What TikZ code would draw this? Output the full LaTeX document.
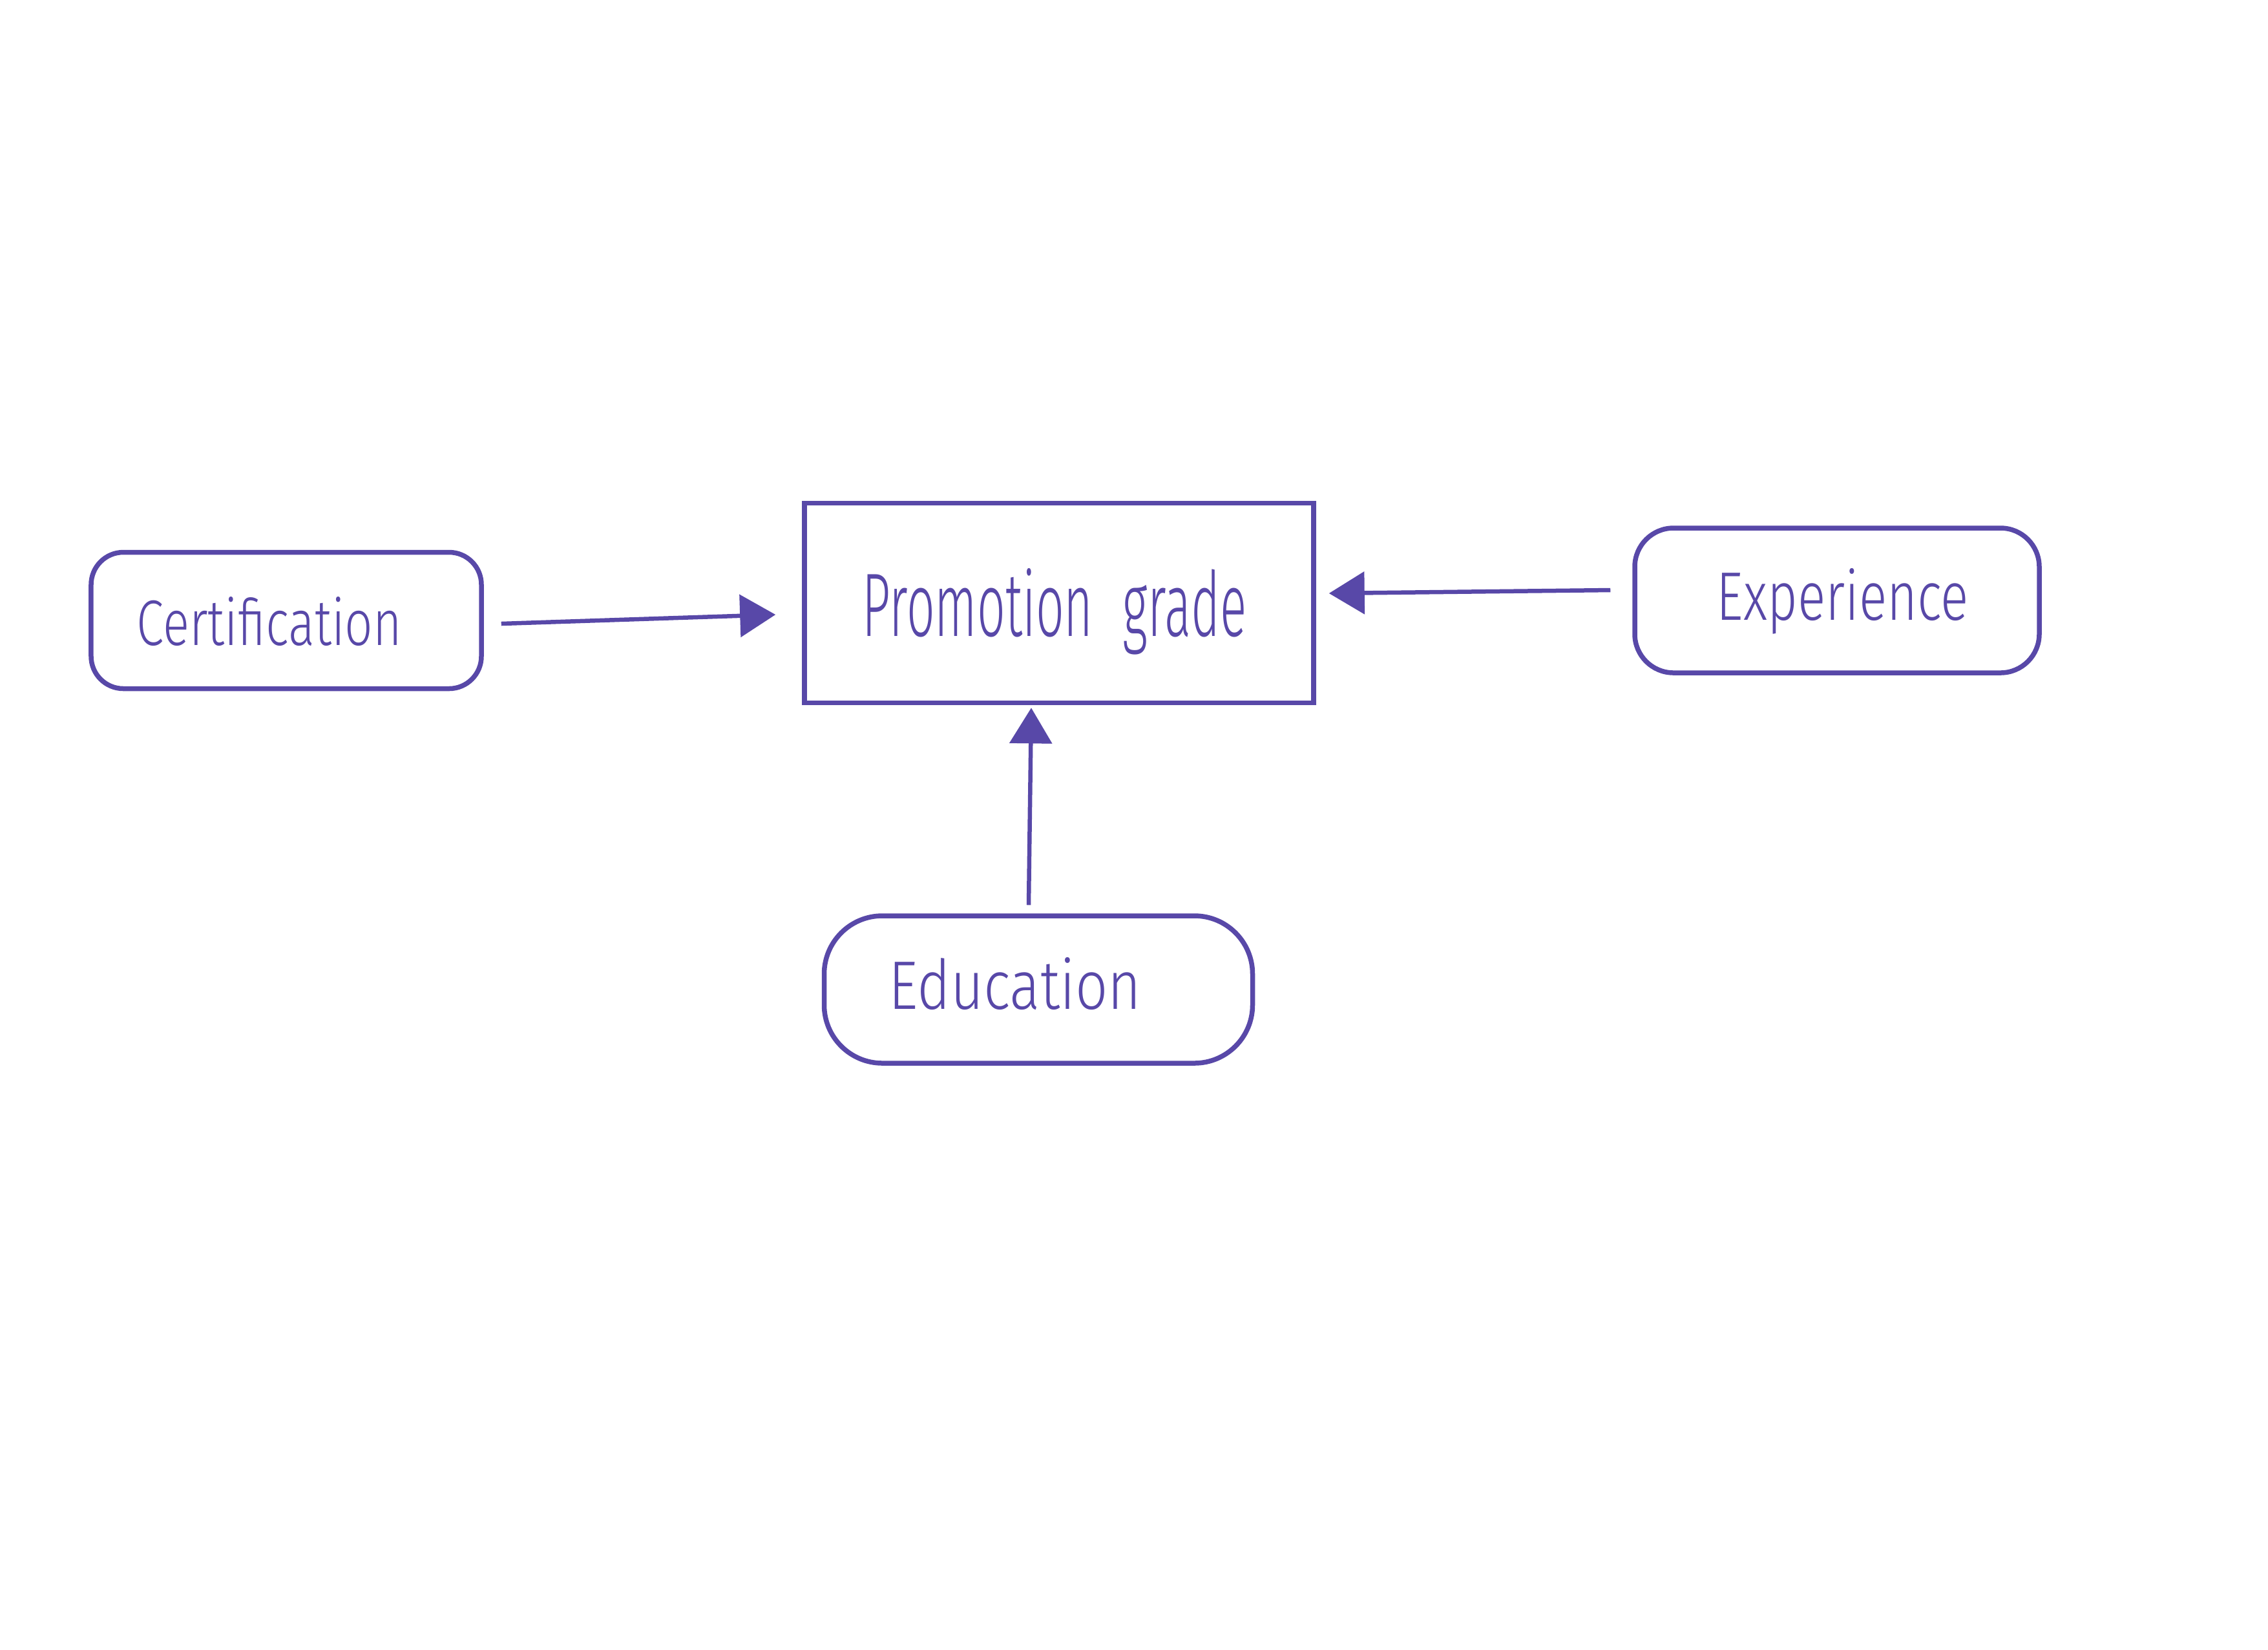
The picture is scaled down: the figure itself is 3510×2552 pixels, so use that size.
\documentclass[tikz,border=0pt]{standalone}
\usepackage{fontspec}
\setmainfont{Lato}
\newfontfamily\hand{Fira Sans}[UprightFont=* Light]
\usetikzlibrary{arrows.meta}
\definecolor{ink}{RGB}{88,72,168}
\tikzset{
  pen/.style={draw=ink, line width=1.5pt},
  roundbox/.style={pen, rounded corners=10pt, inner sep=0pt},
  mainbox/.style={pen, inner sep=0pt},
  lbl/.style={text=ink, font=\hand},
  arr/.style={draw=ink, line width=1.3pt, -{Triangle[length=11pt,width=13pt]}},
}
\begin{document}
\begin{tikzpicture}[x=0.2pt,y=-0.2pt]
\useasboundingbox[fill=white] (0,0) rectangle (3510,2552);
\node[roundbox, minimum width=120.8pt, minimum height=42.2pt] (cert) at (443,960) {};
\node[lbl] (certt) at (417,962) {\resizebox{82pt}{15pt}{Certification}};
\node[mainbox, minimum width=157.6pt, minimum height=61.8pt] (promo) at (1639,933) {};
\node[lbl] (promot) at (1632,946) {\resizebox{119pt}{21pt}{Promotion\hspace{0.6em}grade}};
\node[roundbox, rounded corners=12pt, minimum width=125.2pt, minimum height=44.8pt] (exp) at (2843,929) {};
\node[lbl] (expt) at (2852,930) {\resizebox{78pt}{16pt}{Experience}};
\node[roundbox, rounded corners=18pt, minimum width=132.6pt, minimum height=45.6pt] (edu) at (1607,1531) {};
\node[lbl] (edut) at (1571,1522) {\resizebox{78pt}{16pt}{Education}};
\draw[arr] ([xshift=5.4pt,yshift=-1pt]cert.east) -- ([xshift=-8.2pt,yshift=-3.6pt]promo.west);
\draw[arr] ([xshift=-6.8pt,yshift=3.2pt]exp.west) -- ([xshift=4pt,yshift=3pt]promo.east);
\draw[arr] ([xshift=-3pt,yshift=2.6pt]edu.north) -- ([xshift=-8.6pt,yshift=-0.8pt]promo.south);
\end{tikzpicture}
\end{document}
